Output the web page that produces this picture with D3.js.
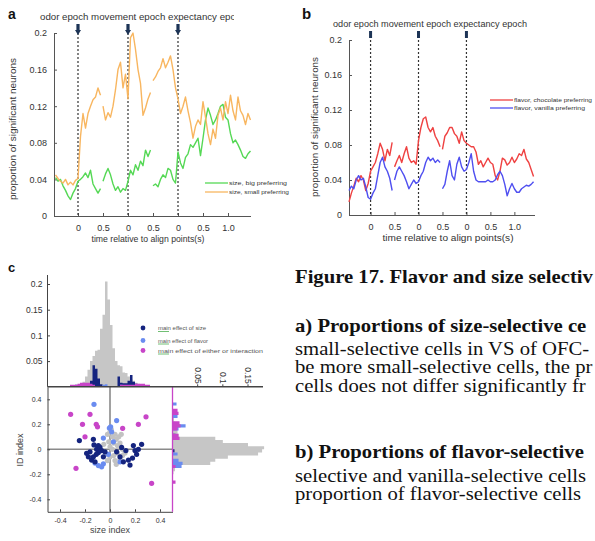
<!DOCTYPE html>
<html><head><meta charset="utf-8">
<script src="https://cdn.jsdelivr.net/npm/d3@7"></script>
<style>body{margin:0;background:#fff}svg{display:block}</style>
</head><body>
<svg id="fig" width="595" height="541"></svg>
<script>
// ---------------- data: panels a & b ----------------
const epochTitle = "odor epoch movement epoch expectancy epoch";
const xTickPos = [0, 0.5, 1, 1.5, 2, 2.5, 3];
const xTickLabels = ["0", "0.5", "0", "0.5", "0", "0.5", "1.0"];
const yTickVals = [0, 0.04, 0.08, 0.12, 0.16, 0.2];
const yTickLabels = ["0", "0.04", "0.08", "0.12", "0.16", "0.2"];
const alignPoints = [0, 1, 2];
const timeSeg1 = [-0.45,-0.4,-0.35,-0.3,-0.25,-0.2,-0.15,-0.1,-0.05,0,0.05,0.1,0.15,0.2,0.25,0.3,0.35,0.4,0.45];
const timeSeg2 = [0.5,0.55,0.6,0.65,0.7,0.75,0.8,0.85,0.9,0.95,1,1.05,1.1,1.15,1.2,1.25,1.3,1.35,1.4,1.45];
const timeSeg3 = [1.5,1.55,1.6,1.65,1.7,1.75,1.8,1.85,1.9,1.95,2,2.05,2.1,2.15,2.2,2.25,2.3,2.35,2.4,2.45,2.5,2.55,2.6,2.65,2.7,2.75,2.8,2.85,2.9,2.95,3,3.05,3.1,3.15,3.2,3.25,3.3,3.35,3.4,3.45];

const sizeBig1 = [0.042,0.038,0.04,0.033,0.028,0.022,0.018,0.025,0.03,0.038,0.04,0.043,0.047,0.042,0.05,0.035,0.03,0.025,0.03];
const sizeBig2 = [0.038,0.046,0.052,0.045,0.035,0.028,0.032,0.026,0.03,0.028,0.038,0.05,0.045,0.056,0.05,0.06,0.055,0.072,0.065,0.072];
const sizeBig3 = [0.033,0.035,0.032,0.04,0.045,0.042,0.052,0.05,0.04,0.036,0.07,0.058,0.052,0.064,0.068,0.078,0.075,0.08,0.085,0.066,0.085,0.105,0.118,0.11,0.1,0.105,0.112,0.12,0.122,0.108,0.105,0.09,0.08,0.083,0.078,0.072,0.065,0.063,0.068,0.071];
const sizeSmall1 = [0.045,0.041,0.038,0.036,0.04,0.034,0.037,0.034,0.039,0.041,0.087,0.112,0.096,0.112,0.12,0.127,0.13,0.14,0.132];
const sizeSmall2 = [0.12,0.105,0.113,0.108,0.12,0.138,0.16,0.168,0.14,0.155,0.128,0.195,0.2,0.182,0.16,0.145,0.11,0.118,0.128,0.135];
const sizeSmall3 = [0.148,0.152,0.158,0.162,0.172,0.162,0.168,0.175,0.16,0.14,0.128,0.112,0.12,0.13,0.115,0.102,0.085,0.098,0.105,0.1,0.125,0.108,0.09,0.078,0.095,0.085,0.11,0.118,0.105,0.125,0.112,0.132,0.115,0.105,0.13,0.115,0.11,0.1,0.112,0.105];

const flavorChoc1 = [0.015,0.025,0.033,0.042,0.038,0.045,0.04,0.028,0.036,0.05,0.055,0.06,0.07,0.082,0.075,0.062,0.075,0.068,0.083];
const flavorChoc2 = [0.055,0.062,0.068,0.06,0.07,0.078,0.065,0.06,0.062,0.058,0.085,0.1,0.11,0.112,0.1,0.095,0.1,0.09,0.085,0.078];
const flavorChoc3 = [0.075,0.09,0.094,0.1,0.1,0.093,0.09,0.082,0.095,0.085,0.082,0.08,0.078,0.078,0.072,0.058,0.062,0.055,0.06,0.065,0.06,0.058,0.045,0.04,0.05,0.065,0.063,0.057,0.06,0.066,0.06,0.064,0.07,0.068,0.075,0.064,0.06,0.052,0.044];
const flavorVan1 = [0.028,0.033,0.03,0.04,0.045,0.04,0.042,0.032,0.02,0.018,0.025,0.03,0.045,0.06,0.066,0.055,0.05,0.042,0.028];
const flavorVan2 = [0.04,0.05,0.055,0.05,0.045,0.038,0.03,0.035,0.04,0.036,0.038,0.045,0.05,0.06,0.066,0.062,0.065,0.06,0.063,0.06];
const flavorVan3 = [0.03,0.035,0.05,0.062,0.045,0.04,0.058,0.066,0.055,0.05,0.052,0.06,0.07,0.05,0.04,0.038,0.038,0.038,0.038,0.04,0.038,0.038,0.04,0.046,0.05,0.045,0.035,0.022,0.03,0.036,0.03,0.026,0.026,0.03,0.032,0.034,0.033,0.035,0.038];

// ---------------- data: panel c ----------------
const topBinWidth = 0.02;
const topBinStart = [-0.32,-0.3,-0.28,-0.26,-0.24,-0.22,-0.2,-0.18,-0.16,-0.14,-0.12,-0.1,-0.08,-0.06,-0.04,-0.02,0,0.02,0.04,0.06,0.08,0.1,0.12,0.14,0.16,0.18,0.2,0.22,0.24,0.26,0.28,0.3];
const topAll    = [0,0,0.002,0.004,0.006,0.01,0.02,0.033,0.05,0.06,0.07,0.072,0.113,0.14,0.205,0.17,0.12,0.075,0.05,0.042,0.04,0.028,0.027,0.02,0.014,0.012,0.008,0.006,0.004,0.003,0.002,0];
const topSize   = [0,0,0.004,0,0,0,0,0.005,0.012,0.042,0.035,0.016,0.005,0,0,0,0,0,0,0.02,0.008,0.007,0.007,0.012,0.023,0.01,0.006,0.004,0,0,0,0];
const topFlavor = [0,0,0,0,0,0,0,0,0,0,0,0,0,0.004,0.005,0,0,0,0,0,0.004,0,0,0,0,0,0,0,0,0,0,0];
const topEither = [0.004,0.004,0.004,0.006,0.008,0.008,0.008,0.008,0.006,0.004,0,0,0,0,0,0,0,0,0,0,0.004,0.004,0.004,0.004,0.004,0.004,0.006,0.006,0.006,0.006,0.004,0.004];

const rightBinWidth = 0.025;
const rightBinStart = [-0.3,-0.275,-0.25,-0.225,-0.2,-0.175,-0.15,-0.125,-0.1,-0.075,-0.05,-0.025,0,0.025,0.05,0.075,0.1,0.125,0.15,0.175,0.2,0.225,0.25,0.275,0.3,0.325,0.35,0.375];
const rightAll    = [0,0,0,0,0.002,0.005,0.012,0.075,0.085,0.11,0.17,0.178,0.182,0.15,0.1,0.085,0.012,0.01,0.008,0.006,0.004,0.003,0.002,0,0,0,0,0];
const rightSize   = [0,0,0,0,0,0,0,0,0,0,0,0.004,0,0,0,0,0.006,0,0,0,0,0,0,0,0,0,0,0];
const rightFlavor = [0,0,0,0,0,0,0.018,0.02,0.012,0,0.01,0,0,0,0,0,0,0,0.012,0.026,0,0,0.01,0,0,0,0.008,0];
const rightEither = [0,0.006,0,0,0,0,0.006,0,0,0,0,0,0,0,0,0.014,0.012,0,0.01,0.016,0.014,0,0,0.012,0.01,0,0,0];

const sizeIdxSize = [-0.245,-0.133,-0.128,-0.16,-0.187,-0.173,-0.147,-0.12,-0.107,-0.093,-0.08,-0.067,-0.093,-0.11,-0.053,-0.133,-0.04,0.053,0.08,0.093,0.127,0.147,0.16,0.187,0.2,0.213,0.227,0.253,0.107,0.18];
const idIdxSize   = [0.07,0.08,0.035,-0.02,-0.032,-0.06,-0.086,-0.1,0.0,0.03,0.015,-0.01,-0.026,-0.04,-0.06,-0.06,-0.02,-0.02,-0.06,0.015,-0.01,-0.086,-0.126,0.03,-0.01,-0.04,0.0,0.04,-0.1,-0.07];
const sizeIdxFlavor = [-0.128,0.053,-0.005,0.005,-0.053,0.027,-0.013,-0.093,-0.053,-0.067,-0.12,0.013,0.08];
const idIdxFlavor   = [0.36,0.23,0.17,0.18,0.09,0.06,-0.04,-0.13,-0.116,-0.14,-0.11,0.14,-0.1];
const sizeIdxEither = [-0.315,-0.16,-0.22,-0.11,-0.1,-0.2,0.101,0.227,0.288,-0.272,0.333];
const idIdxEither   = [0.28,0.28,0.2,0.2,0.18,0.1,0.168,0.2,0.26,-0.152,-0.272];
const sizeIdxNone = [-0.02,0.0,0.02,0.04,0.05,0.03,-0.01,0.0,0.02,0.06,0.08,0.1,0.06,0.03,0.0,-0.03,0.04,0.08,0.1,-0.05,0.07,0.01,0.09,0.12,-0.02,0.05];
const idIdxNone   = [0.12,0.14,0.1,0.12,0.08,0.05,0.06,0.02,0.0,0.03,0.05,0.0,-0.03,-0.05,-0.06,-0.04,-0.09,-0.08,-0.05,0.04,0.1,0.16,0.12,-0.03,-0.09,-0.12];

const scatterTicks = [-0.4,-0.2,0,0.2,0.4];
const scatterTickLabels = ["-0.4","-0.2","0","0.2","0.4"];
const topHistTicks = [0.05,0.1,0.15,0.2];
const topHistTickLabels = ["0.05","0.1","0.15","0.2"];
const rightHistTicks = [0.05,0.1,0.15];
const rightHistTickLabels = ["0.05","0.1","0.15"];
const legendC = ["main effect of size","main effect of flavor","main effect of either or interaction"];

// caption lines as visible in the figure (cut at the right page edge)
const captionLines = [
  {t:"Figure 17. Flavor and size selectiv", b:true},
  {t:"a) Proportions of size-selective ce", b:true},
  {t:"small-selective cells in VS of OFC-", b:false},
  {t:"be more small-selective cells, the pr", b:false},
  {t:"cells does not differ significantly fr", b:false},
  {t:"b) Proportions of flavor-selective", b:true},
  {t:"selective and vanilla-selective cells", b:false},
  {t:"proportion of flavor-selective cells", b:false}
];

// ---------------- drawing ----------------
const svg = d3.select("#fig");
svg.append("rect").attr("width",595).attr("height",541).attr("fill","#fff");
const SANS = "'Liberation Sans', Arial, sans-serif";
const INK = "#333";

function zip(t, v){ return v.map((d,i)=>[t[i], d]); }

function timePanel(o){
  const g = svg.append("g");
  const x = d3.scaleLinear().domain(o.xDomain).range(o.xRange);
  const y = d3.scaleLinear().domain([0,0.2]).range(o.yRange);
  const ya = d3.axisLeft(y).tickValues(yTickVals).tickFormat((d,i)=>yTickLabels[i]).tickSize(-3).tickSizeOuter(0).tickPadding(7);
  const xa = d3.axisBottom(x).tickValues(xTickPos).tickFormat((d,i)=>xTickLabels[i]).tickSize(-3).tickSizeOuter(0).tickPadding(9);
  const gy = g.append("g").attr("transform",`translate(${o.xRange[0]},0)`).call(ya);
  const gx = g.append("g").attr("transform",`translate(0,${o.yRange[0]})`).call(xa);
  [gy,gx].forEach(a=>{
    a.selectAll("path,line").attr("stroke","#555").attr("stroke-width",1);
    a.selectAll("text").attr("font-family",SANS).attr("font-size",9).attr("fill",INK);
  });
  alignPoints.forEach(p=>{
    g.append("line").attr("x1",x(p)).attr("x2",x(p)).attr("y1",y(0.2)).attr("y2",y(0))
      .attr("stroke","#333").attr("stroke-width",1.2).attr("stroke-dasharray","2,2");
    const cx = x(p);
    if(o.arrow){
      g.append("path").attr("d",`M${cx-1.6},${o.mTop} L${cx+1.6},${o.mTop} L${cx+1.6},${o.mTop+6} L${cx+3},${o.mTop+6} L${cx},${o.mTop+11} L${cx-3},${o.mTop+6} L${cx-1.6},${o.mTop+6} Z`)
        .attr("fill","#1d3456");
    } else {
      g.append("rect").attr("x",cx-1.5).attr("y",o.mTop).attr("width",3).attr("height",7).attr("fill","#1d3456");
    }
  });
  const line = d3.line().x(d=>x(d[0])).y(d=>y(d[1]));
  o.series.forEach(s=>{
    [[timeSeg1,s.v[0]],[timeSeg2,s.v[1]],[timeSeg3,s.v[2]]].forEach(([t,v])=>{
      g.append("path").datum(zip(t,v)).attr("d",line).attr("fill","none")
        .attr("stroke",s.color).attr("stroke-width",1.4).attr("stroke-linejoin","round");
    });
  });
  o.series.forEach((s,i)=>{
    const ly = o.legY + i*o.legDy;
    g.append("line").attr("x1",o.legX).attr("x2",o.legX+23).attr("y1",ly).attr("y2",ly).attr("stroke",s.color).attr("stroke-width",1.3);
    g.append("text").attr("x",o.legX+24).attr("y",ly+2).attr("font-family",SANS).attr("font-size",5.8).attr("fill",INK)
      .attr("textLength",s.lw).attr("lengthAdjust","spacingAndGlyphs").text(s.name);
  });
  const tg = g.append("g");
  if(o.clip){
    svg.append("clipPath").attr("id","clipA").append("rect").attr("x",0).attr("y",0).attr("width",o.clip).attr("height",40);
    tg.attr("clip-path","url(#clipA)");
  }
  tg.append("text").attr("x",o.titleX).attr("y",o.titleY).attr("font-family",SANS).attr("font-size",9).attr("fill",INK)
    .attr("textLength",o.titleW).attr("lengthAdjust","spacingAndGlyphs").text(epochTitle);
  g.append("text").attr("transform",`translate(${o.ylabX},${o.ylabY}) rotate(-90)`).attr("text-anchor","middle")
    .attr("font-family",SANS).attr("font-size",8.5).attr("fill",INK).attr("textLength",o.ylabW).attr("lengthAdjust","spacingAndGlyphs")
    .text("proportion of significant neurons");
  g.append("text").attr("x",o.xlabX).attr("y",o.xlabY).attr("text-anchor","middle")
    .attr("font-family",SANS).attr("font-size",9).attr("fill",INK).attr("textLength",o.xlabW).attr("lengthAdjust","spacingAndGlyphs")
    .text("time relative to align points(s)");
  g.append("text").attr("x",o.letterX).attr("y",o.letterY).attr("font-family",SANS).attr("font-weight","bold")
    .attr("font-size",o.letterSize).attr("fill","#111").text(o.letter);
}

timePanel({
  xDomain:[-0.48,3.45], xRange:[54,250.5], yRange:[216,33], arrow:true, mTop:24,
  series:[
    {name:"size, big preferring", color:"#55d855", v:[sizeBig1,sizeBig2,sizeBig3], lw:58},
    {name:"size, small preferring", color:"#f8b660", v:[sizeSmall1,sizeSmall2,sizeSmall3], lw:60}
  ],
  legX:205, legY:183, legDy:9,
  clip:234, titleX:40, titleY:20, titleW:206,
  ylabX:16, ylabY:129, ylabW:142,
  xlabX:148, xlabY:242, xlabW:113,
  letter:"a", letterX:8, letterY:19, letterSize:14
});
timePanel({
  xDomain:[-0.45,3.42], xRange:[349,534.5], yRange:[215,40], arrow:false, mTop:31,
  series:[
    {name:"flavor, chocolate preferring", color:"#ef4242", v:[flavorChoc1,flavorChoc2,flavorChoc3], lw:78},
    {name:"flavor, vanilla preferring", color:"#4f4ff0", v:[flavorVan1,flavorVan2,flavorVan3], lw:71}
  ],
  legX:490, legY:100, legDy:8,
  clip:null, titleX:333, titleY:27, titleW:194,
  ylabX:318, ylabY:127, ylabW:140,
  xlabX:448, xlabY:241, xlabW:131,
  letter:"b", letterX:302, letterY:19, letterSize:15
});

// ---------------- panel c ----------------
const NAVY = "#15247f", LBLUE = "#6a8cf0", MAG = "#c845c8", HGRAY = "#c6c6c6";
const gc = svg.append("g");
const xC = d3.scaleLinear().domain([-0.5,0.5]).range([47.5,172.5]);
const yC = d3.scaleLinear().domain([-0.5,0.5]).range([511.8,386.8]);
const hTop = d3.scaleLinear().domain([0,0.2]).range([386.8,284]);
const hRight = d3.scaleLinear().domain([0,0.15]).range([172.5,248]);

// histograms drawn as single step outlines (no seams between bins)
function topHist(vals, color){
  const p = d3.path();
  p.moveTo(xC(topBinStart[0]), hTop(0));
  topBinStart.forEach((s,i)=>{ p.lineTo(xC(s), hTop(vals[i])); p.lineTo(xC(s+topBinWidth), hTop(vals[i])); });
  p.lineTo(xC(topBinStart[topBinStart.length-1]+topBinWidth), hTop(0)); p.closePath();
  gc.append("path").attr("d",p.toString()).attr("fill",color);
}
function rightHist(vals, color){
  const p = d3.path();
  p.moveTo(hRight(0), yC(rightBinStart[0]));
  rightBinStart.forEach((s,i)=>{ p.lineTo(hRight(vals[i]), yC(s)); p.lineTo(hRight(vals[i]), yC(s+rightBinWidth)); });
  p.lineTo(hRight(0), yC(rightBinStart[rightBinStart.length-1]+rightBinWidth)); p.closePath();
  gc.append("path").attr("d",p.toString()).attr("fill",color);
}
topHist(topAll, HGRAY); topHist(topSize, NAVY); topHist(topFlavor, LBLUE); topHist(topEither, MAG);
rightHist(rightAll, HGRAY); rightHist(rightSize, NAVY); rightHist(rightFlavor, LBLUE); rightHist(rightEither, MAG);

const gTopAx = gc.append("g").attr("transform",`translate(${xC(-0.5)},0)`)
  .call(d3.axisLeft(hTop).tickValues(topHistTicks).tickFormat((d,i)=>topHistTickLabels[i]).tickSize(-2.5).tickSizeOuter(0).tickPadding(5));
gTopAx.select(".domain").attr("d",`M0,${hTop(0)}V275`);
gTopAx.selectAll("path,line").attr("stroke","#444");
gTopAx.selectAll("text").attr("font-family",SANS).attr("font-size",8.5).attr("fill",INK);

gc.append("line").attr("x1",xC(0)).attr("x2",xC(0)).attr("y1",yC(0.5)).attr("y2",yC(-0.5)).attr("stroke","#8a8a8a").attr("stroke-width",1.6);
gc.append("line").attr("x1",xC(-0.5)).attr("x2",xC(0.5)).attr("y1",yC(0)).attr("y2",yC(0)).attr("stroke","#8a8a8a").attr("stroke-width",1.6);

function pts(xs, ys, color){
  gc.append("g").selectAll("circle").data(xs.map((d,i)=>[d, ys[i]])).join("circle")
    .attr("cx",d=>xC(d[0])).attr("cy",d=>yC(d[1])).attr("r",2.6).attr("fill",color);
}
pts(sizeIdxNone, idIdxNone, "#c2c2c2");
pts(sizeIdxFlavor, idIdxFlavor, LBLUE);
pts(sizeIdxSize, idIdxSize, NAVY);
pts(sizeIdxEither, idIdxEither, MAG);

const gSx = gc.append("g").attr("transform",`translate(0,${yC(-0.5)})`)
  .call(d3.axisBottom(xC).tickValues(scatterTicks).tickFormat((d,i)=>scatterTickLabels[i]).tickSize(-2.5).tickSizeOuter(0).tickPadding(6));
const gSy = gc.append("g").attr("transform",`translate(${xC(-0.5)},0)`)
  .call(d3.axisLeft(yC).tickValues(scatterTicks).tickFormat((d,i)=>scatterTickLabels[i]).tickSize(-2.5).tickSizeOuter(0).tickPadding(6));
[gSx,gSy].forEach(a=>{
  a.selectAll("path,line").attr("stroke","#444");
  a.selectAll("text").attr("font-family",SANS).attr("font-size",7).attr("fill",INK);
});
gc.append("line").attr("x1",xC(0.5)).attr("x2",xC(0.5)).attr("y1",yC(0.5)).attr("y2",yC(-0.5)).attr("stroke",MAG).attr("stroke-width",1.3);
gc.append("line").attr("x1",xC(-0.5)).attr("x2",263).attr("y1",yC(0.5)).attr("y2",yC(0.5)).attr("stroke","#444").attr("stroke-width",1.5);
rightHistTicks.forEach((t,i)=>{
  gc.append("line").attr("x1",hRight(t)).attr("x2",hRight(t)).attr("y1",yC(0.5)).attr("y2",yC(0.5)-2.5).attr("stroke","#444");
  gc.append("text").attr("transform",`translate(${hRight(t)-3},${yC(0.5)-3}) rotate(90)`).attr("text-anchor","end")
    .attr("font-family",SANS).attr("font-size",8.5).attr("fill",INK).text(rightHistTickLabels[i]);
});

gc.append("text").attr("x",xC(0)).attr("y",533).attr("text-anchor","middle").attr("font-family",SANS).attr("font-size",9).attr("fill","#444").text("size index");
gc.append("text").attr("transform","translate(23,450) rotate(-90)").attr("text-anchor","middle").attr("font-family",SANS).attr("font-size",9).attr("fill","#444").text("ID index");
gc.append("text").attr("x",8).attr("y",272).attr("font-family",SANS).attr("font-weight","bold").attr("font-size",13).attr("fill","#111").text("c");

const legCol = [NAVY, LBLUE, MAG], legYs = [328, 340.5, 350.5], legW = [48, 50, 105];
legendC.forEach((t,i)=>{
  gc.append("circle").attr("cx",143).attr("cy",legYs[i]).attr("r",2.4).attr("fill",legCol[i]);
  gc.append("text").attr("x",158).attr("y",legYs[i]+2).attr("font-family",SANS).attr("font-size",6).attr("fill","#555")
    .attr("textLength",legW[i]).attr("lengthAdjust","spacingAndGlyphs").text(t);
  gc.append("line").attr("x1",158).attr("x2",169).attr("y1",legYs[i]+3.5).attr("y2",legYs[i]+3.5).attr("stroke","#4caf50").attr("stroke-width",0.8);
});

// ---------------- caption text ----------------
const capY = [283.3, 332.5, 355, 373.3, 391.7, 458.3, 481.7, 500];
const cap = svg.append("g").attr("transform","translate(295,0) scale(1.15,1)");
captionLines.forEach((l,i)=>{
  cap.append("text").attr("x",0).attr("y",capY[i]).attr("font-family","'Liberation Serif','Times New Roman',serif")
    .attr("font-size",18).attr("font-weight",l.b?"bold":"normal").attr("fill","#111").text(l.t);
});
</script>
</body></html>
